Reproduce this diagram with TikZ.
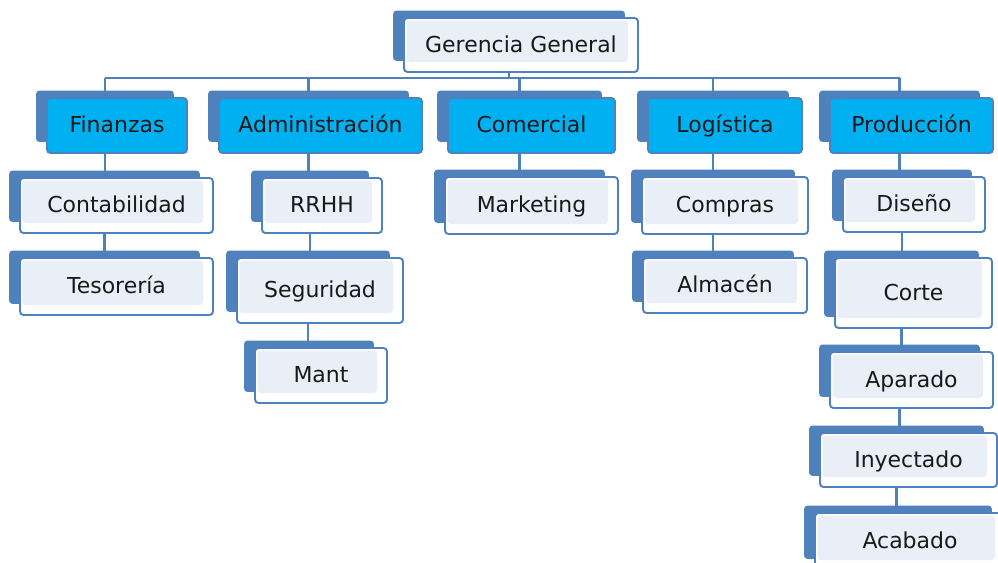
\documentclass[tikz,border=0pt]{standalone}
\usepackage{fontspec}
\setmainfont{DejaVu Sans}
\usetikzlibrary{backgrounds}

\definecolor{steel}{RGB}{79,129,189}
\definecolor{cyanbox}{RGB}{0,176,240}
\definecolor{paleblue}{RGB}{233,238,247}
\definecolor{ink}{RGB}{25,25,25}

\tikzset{
    sz/.style 2 args={minimum width=#1*0.02cm, minimum height=#2*0.02cm},
    box/.style={draw=steel, line width=1.1pt, rounded corners=2pt, text=ink,
        inner sep=0pt, text height=1.8ex, text depth=.3ex,
        font=\fontsize{12.5}{15}\selectfont},
    leaf/.style={box, fill=white,
        path picture={\fill[paleblue]
            ([shift={(0.05cm,-0.05cm)}]path picture bounding box.north west) rectangle
            ([shift={(-0.2cm,0.2cm)}]path picture bounding box.south east);}},
    dept/.style={box, fill=cyanbox},
    backbox/.style={fill=steel, rounded corners=2pt},
    link/.style={draw=steel, line width=1.6pt}
}

\begin{document}
\begin{tikzpicture}[x=0.02cm, y=-0.02cm]
    \useasboundingbox (0,0) rectangle (998,562);

    % Top
    \node[leaf, sz={234}{54}] (ger) at (521,45) {Gerencia General};

    % Departments
    \node[dept, sz={140}{55}] (fin) at (117,125.5) {Finanzas};
    \node[dept, sz={203}{55}] (adm) at (320.5,125.5) {Administración};
    \node[dept, sz={167}{55}] (com) at (531.5,125.5) {Comercial};
    \node[dept, sz={154}{55}] (log) at (725,125.5) {Logística};
    \node[dept, sz={163}{55}] (pro) at (911.5,125.5) {Producción};

    % Areas
    \node[leaf, sz={193}{55}] (cont) at (116.5,205.5) {Contabilidad};
    \node[leaf, sz={193}{57}] (tes) at (116.5,286.5) {Tesorería};
    \node[leaf, sz={120}{55}] (rrhh) at (322,205.5) {RRHH};
    \node[leaf, sz={166}{65}] (seg) at (320,290.5) {Seguridad};
    \node[leaf, sz={132}{55}] (mant) at (321,375.5) {Mant};
    \node[leaf, sz={173}{57}] (mkt) at (531.5,205.5) {Marketing};
    \node[leaf, sz={166}{57}] (comp) at (725,205.5) {Compras};
    \node[leaf, sz={164}{55}] (alm) at (725,285.5) {Almacén};
    \node[leaf, sz={142}{55}] (dis) at (914,204.5) {Diseño};
    \node[leaf, sz={157}{70}] (cor) at (913.5,293) {Corte};
    \node[leaf, sz={163}{56}] (apa) at (911.5,380) {Aparado};
    \node[leaf, sz={177}{54}] (iny) at (908.5,460) {Inyectado};
    \node[leaf, sz={190}{57}] (aca) at (910,541.5) {Acabado};

    \begin{scope}[on background layer]
        % Connectors
        \foreach \n in {ger,fin,adm,com,log,pro,cont,tes,rrhh,seg,mant,mkt,comp,alm,dis,cor,apa,iny,aca} {
            \coordinate (\n-top) at ([xshift=-2.4mm]\n.north);
            \coordinate (\n-bot) at ([xshift=-2.4mm]\n.south);
        }
        \coordinate (bus) at (0,78);
        \draw[link] (ger-bot) -- (ger-bot |- bus);
        \draw[link] (fin-top |- bus) -- (pro-top |- bus);
        \foreach \d in {fin,adm,com,log,pro}
            \draw[link] (\d-top |- bus) -- (\d-top);
        \foreach \a/\b in {fin/cont, cont/tes, adm/rrhh, rrhh/seg, seg/mant, com/mkt,
                log/comp, comp/alm, pro/dis, dis/cor, cor/apa, apa/iny, iny/aca}
            \draw[link] (\a-bot) -- (\a-bot |- \b-top);

        % Back boxes
        \foreach \n in {ger,fin,adm,com,log,pro,cont,tes,rrhh,seg,mant,mkt,comp,alm,dis,cor,apa,iny,aca}
            \fill[backbox] ([shift={(-0.2cm,0.13cm)}]\n.north west) rectangle ([shift={(-0.28cm,0.24cm)}]\n.south east);
    \end{scope}
\end{tikzpicture}
\end{document}
